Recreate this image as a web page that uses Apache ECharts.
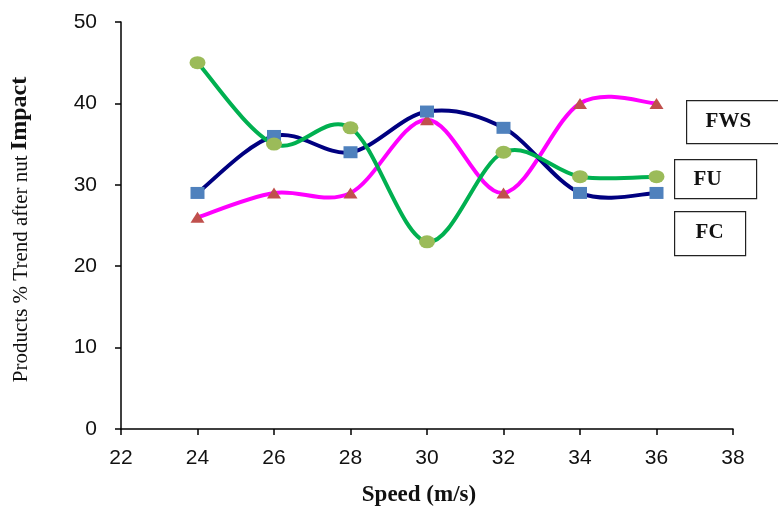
<!DOCTYPE html>
<html><head><meta charset="utf-8">
<script src="https://cdn.jsdelivr.net/npm/echarts@6/dist/echarts.min.js"></script>
<style>html,body{margin:0;padding:0;background:#fff}#c{width:778px;height:506px}</style>
</head><body><div id="c"></div>
<script>
const speeds = [24, 26, 28, 30, 32, 34, 36];
const fcValues = [29, 36, 34, 39, 37, 29, 29];   // navy line, blue squares
const fuValues = [45, 35, 37, 23, 34, 31, 31];   // green line, olive circles
const fwsValues = [26, 29, 29, 38, 29, 40, 40];  // magenta line, red triangles
const xTicks = [22, 24, 26, 28, 30, 32, 34, 36, 38];
const yTicks = [0, 10, 20, 30, 40, 50];
const boxLabels = ['FWS', 'FU', 'FC'];

const pair = (vals) => speeds.map((s, i) => [s, vals[i]]);

// Excel-like (Catmull-Rom) smoothed line drawn through the chart's own coordinate system
function smoothLine(name, vals, color, z) {
  return {
    type: 'custom', name: name, coordinateSystem: 'cartesian2d', z: z, silent: true,
    data: pair(vals), encode: {x: 0, y: 1},
    renderItem: function (params, api) {
      const i = params.dataIndex;
      if (i >= vals.length - 1) return null;
      const P = (k) => api.coord([speeds[k], vals[k]]);
      const p0 = P(Math.max(i - 1, 0)), p1 = P(i), p2 = P(i + 1), p3 = P(Math.min(i + 2, vals.length - 1));
      return {
        type: 'bezierCurve',
        shape: {
          x1: p1[0], y1: p1[1], x2: p2[0], y2: p2[1],
          cpx1: p1[0] + (p2[0] - p0[0]) / 6, cpy1: p1[1] + (p2[1] - p0[1]) / 6,
          cpx2: p2[0] - (p3[0] - p1[0]) / 6, cpy2: p2[1] - (p3[1] - p1[1]) / 6
        },
        style: {stroke: color, lineWidth: 4, fill: 'none', lineCap: 'round'}
      };
    }
  };
}
function markers(name, vals, symbol, size, color, z) {
  return {type: 'scatter', name: name, data: pair(vals), symbol: symbol, symbolSize: size,
          itemStyle: {color: color, opacity: 1}, z: z, silent: true};
}

const chart = echarts.init(document.getElementById('c'), null, {renderer: 'canvas'});
const axisFont = {fontFamily: '"Liberation Sans", Arial, sans-serif', fontSize: 21, color: '#111'};
const serif = '"Liberation Serif", "Times New Roman", serif';
chart.setOption({
  animation: false,
  grid: {left: 121, right: 45, top: 22, bottom: 77, containLabel: false, outerBoundsMode: 'none'},
  xAxis: {
    type: 'value', min: xTicks[0], max: xTicks[xTicks.length - 1], interval: 2,
    axisLine: {lineStyle: {color: '#000', width: 1.5}},
    axisTick: {show: true, length: 6, lineStyle: {color: '#000', width: 1.5}},
    splitLine: {show: false},
    axisLabel: Object.assign({margin: 19}, axisFont),
    name: 'Speed (m/s)', nameLocation: 'middle', nameGap: 55,
    nameTextStyle: {fontFamily: serif, fontWeight: 'bold', fontSize: 23, color: '#111', padding: [0, 16, 0, 0]}
  },
  yAxis: {
    type: 'value', min: yTicks[0], max: yTicks[yTicks.length - 1], interval: 10,
    axisLine: {show: true, lineStyle: {color: '#000', width: 1.5}},
    axisTick: {show: true, length: 6, lineStyle: {color: '#000', width: 1.5}},
    splitLine: {show: false},
    axisLabel: Object.assign({margin: 24}, axisFont),
    name: '{a|Products % Trend after nut }{b|Impact}', nameLocation: 'middle', nameGap: 89,
    nameTextStyle: {
      padding: [0, 8, 0, 0],
      rich: {
        a: {fontFamily: serif, fontSize: 21, color: '#111', verticalAlign: 'bottom'},
        b: {fontFamily: serif, fontSize: 24, fontWeight: 'bold', color: '#111', verticalAlign: 'bottom'}
      }
    }
  },
  series: [
    smoothLine('FWS', fwsValues, '#FF00FF', 2),
    smoothLine('FC', fcValues, '#000080', 3),
    smoothLine('FU', fuValues, '#00B050', 4),
    markers('FWS', fwsValues, 'triangle', [14, 11], '#C0504D', 5),
    markers('FC', fcValues, 'rect', [14, 12], '#4F81BD', 6),
    markers('FU', fuValues, 'circle', [16, 13], '#9BBB59', 7)
  ],
  graphic: [
    {type: 'group', left: 686, top: 100, children: [
      {type: 'rect', shape: {x: 0, y: 0, width: 100, height: 43}, style: {fill: '#fff', stroke: '#222', lineWidth: 1.2}},
      {type: 'text', x: 19, y: 21, style: {text: boxLabels[0], font: 'bold 21px ' + serif, fill: '#111', textVerticalAlign: 'middle'}}
    ]},
    {type: 'group', left: 674, top: 159, children: [
      {type: 'rect', shape: {x: 0, y: 0, width: 82, height: 39}, style: {fill: '#fff', stroke: '#222', lineWidth: 1.2}},
      {type: 'text', x: 19, y: 20, style: {text: boxLabels[1], font: 'bold 21px ' + serif, fill: '#111', textVerticalAlign: 'middle'}}
    ]},
    {type: 'group', left: 674, top: 211, children: [
      {type: 'rect', shape: {x: 0, y: 0, width: 71, height: 44}, style: {fill: '#fff', stroke: '#222', lineWidth: 1.2}},
      {type: 'text', x: 21, y: 21, style: {text: boxLabels[2], font: 'bold 21px ' + serif, fill: '#111', textVerticalAlign: 'middle'}}
    ]}
  ]
});
</script></body></html>
